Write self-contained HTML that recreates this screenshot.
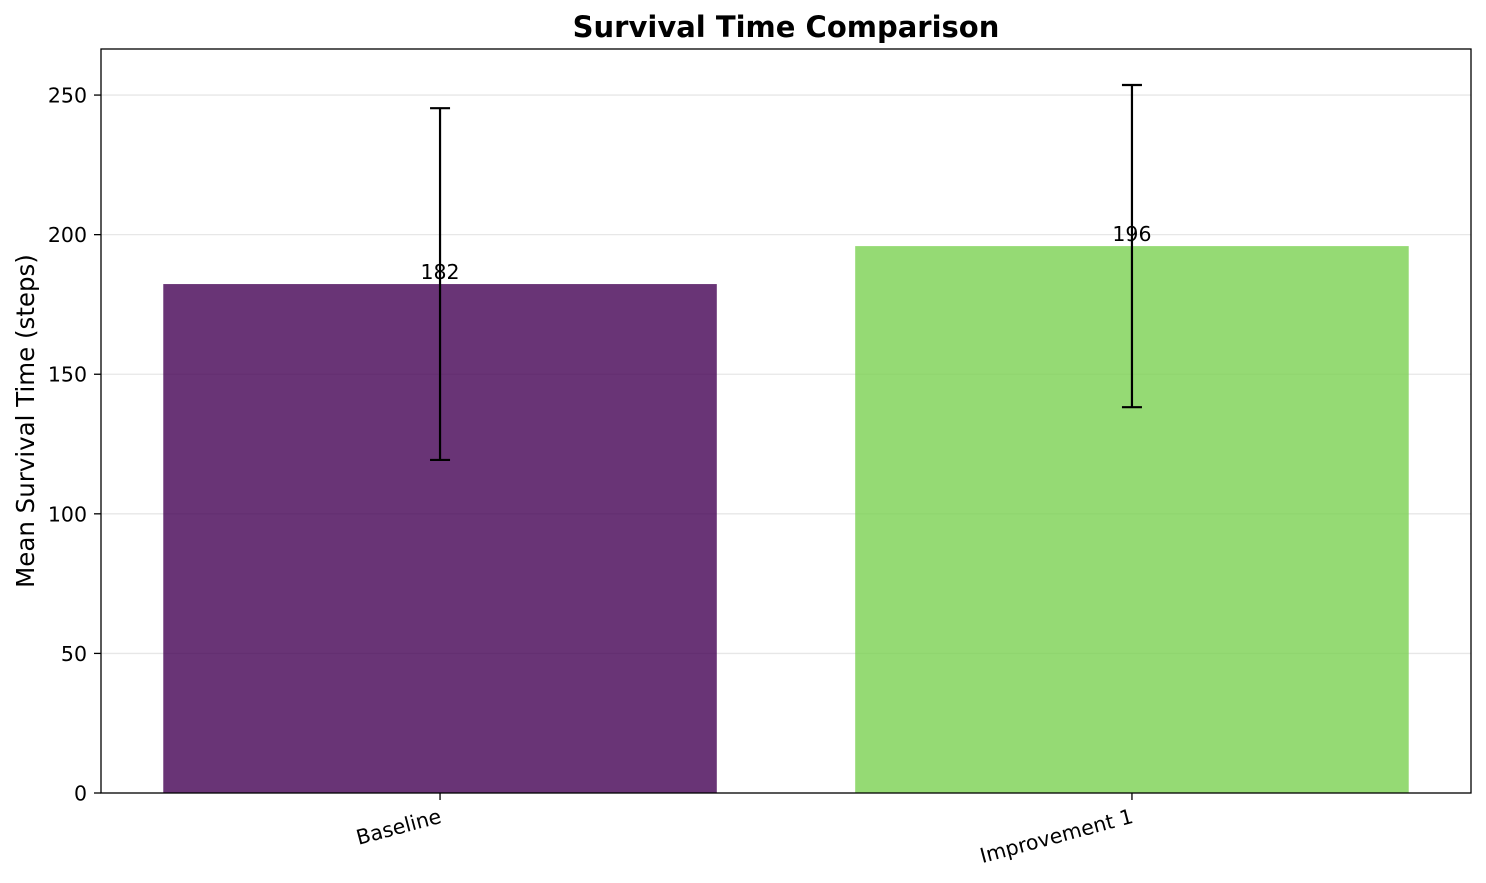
<!DOCTYPE html>
<html><head><meta charset="utf-8"><style>
body{margin:0;background:#fff;}
svg{display:block;font-family:"DejaVu Sans","Liberation Sans",sans-serif;}
</style></head><body>
<svg id="chart" width="1486" height="883"></svg>
<script>
const categories = ["Baseline", "Improvement 1"];
const means = [182.3, 195.9];
const errors = [63.0, 57.7];
const yTicks = [0, 50, 100, 150, 200, 250];
const colors = ["#440154", "#7ad151"];

const NS = "http://www.w3.org/2000/svg";
const svg = document.getElementById("chart");
const L = 101, R = 1471, T = 49, B = 793;
const yMax = 266.5, xMin = -0.49, xMax = 1.49;
const y = v => B - v / yMax * (B - T);
const x = v => L + (v - xMin) / (xMax - xMin) * (R - L);
function mk(tag, attrs, parent) {
  const e = document.createElementNS(NS, tag);
  for (const k in attrs) e.setAttribute(k, attrs[k]);
  (parent || svg).appendChild(e);
  return e;
}
yTicks.forEach(t => {
  const g = mk("line", {x1: L, x2: R, y1: y(t), y2: y(t), stroke: "#b0b0b0", "stroke-opacity": 0.3, "stroke-width": 1.3});
  
  
});
const bw = 0.8;
categories.forEach((c, i) => {
  const r = mk("rect", {x: x(i - bw/2), y: y(means[i]), width: x(i + bw/2) - x(i - bw/2), height: y(0) - y(means[i]), fill: colors[i], "fill-opacity": 0.8});
  
  
});
categories.forEach((c, i) => {
  const t = mk("text", {x: x(i), y: y(means[i]) - 5, "text-anchor": "middle", "font-size": 20.5, fill: "#000"});
  t.textContent = Math.round(means[i]);
  
  
});
categories.forEach((c, i) => {
  const g = mk("g", {stroke: "#000", "stroke-width": 2.2});
  
  
  const cx = x(i), t = y(means[i] + errors[i]), b = y(means[i] - errors[i]);
  mk("line", {x1: cx, x2: cx, y1: t, y2: b}, g);
  mk("line", {x1: cx - 10, x2: cx + 10, y1: t, y2: t}, g);
  mk("line", {x1: cx - 10, x2: cx + 10, y1: b, y2: b}, g);
});
const f = mk("rect", {x: L, y: T, width: R - L, height: B - T, fill: "none", stroke: "#000", "stroke-width": 1.3});


yTicks.forEach(t => {
  mk("line", {x1: L - 7, x2: L, y1: y(t), y2: y(t), stroke: "#000", "stroke-width": 1.3});
  const tx = mk("text", {x: L - 14, y: y(t) + 7.5, "text-anchor": "end", "font-size": 20.5});
  tx.textContent = t;
  
  
});
categories.forEach((c, i) => {
  mk("line", {x1: x(i), x2: x(i), y1: B, y2: B + 7, stroke: "#000", "stroke-width": 1.3});
  const ax = x(i) - 2, ay = B + 13;
  const tx = mk("text", {x: ax, y: ay + 17, "text-anchor": "end", "font-size": 20.5, transform: `rotate(-15 ${ax} ${ay})`});
  tx.textContent = c;
  
  
});
const yt = mk("text", {x: 34, y: (T + B) / 2, "text-anchor": "middle", "font-size": 24.5, transform: `rotate(-90 34 ${(T + B) / 2})`});
yt.textContent = "Mean Survival Time (steps)";


const ti = mk("text", {x: (L + R) / 2, y: 37, "text-anchor": "middle", "font-size": 29, "font-weight": "bold"});
ti.textContent = "Survival Time Comparison";


</script>
</body></html>
